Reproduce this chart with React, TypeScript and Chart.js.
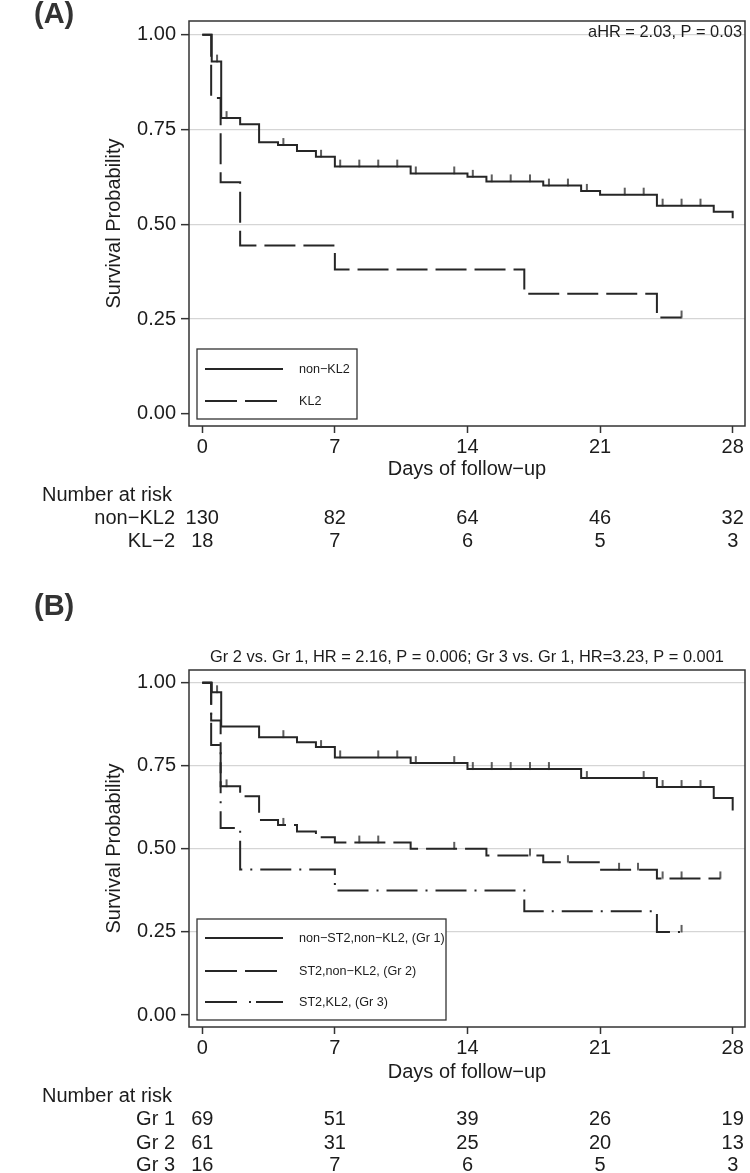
import React, { useEffect, useRef } from "react";
import { Chart, registerables } from "chart.js";
Chart.register(...registerables);

const FONT = '"Liberation Sans", Arial, Helvetica, sans-serif';
const INK = "#1c1c1c";
const LINE = "#262626";
const GRID = "#d5d5d5";

// Shared axes
const DAY_TICKS = [0, 7, 14, 21, 28];
const SURV_TICKS = [0, 0.25, 0.5, 0.75, 1];
const X_TITLE = "Days of follow\u2212up";
const Y_TITLE = "Survival Probability";

// ---------- Panel A ----------
const A_NON_T = [0, 0.5, 1, 2, 3, 4, 5, 6, 7, 11, 14, 15, 18, 20, 21, 24, 27, 28];
const A_NON_S = [1, 0.929, 0.78, 0.764, 0.716, 0.709, 0.693, 0.678, 0.652, 0.634, 0.625, 0.613, 0.602, 0.588, 0.578, 0.549, 0.533, 0.516];
const A_NON_CENS = [0.78, 1.28, 4.28, 6.27, 7.28, 8.29, 9.29, 10.29, 11.27, 13.3, 14.28, 15.28, 16.28, 17.3, 18.3, 19.3, 20.3, 22.3, 23.3, 24.3, 25.3, 26.3];
const A_KL2_T = [0, 0.47, 0.97, 2, 7, 17, 24, 25.3];
const A_KL2_S = [1, 0.833, 0.611, 0.444, 0.381, 0.317, 0.254, 0.254];
const A_KL2_CENS = [25.3];
const A_LEGEND = ["non\u2212KL2", "KL2"];
const A_NOTE = "aHR = 2.03, P = 0.03";
const A_RISK_ROWS = ["non\u2212KL2", "KL\u22122"];
const A_RISK_NON = [130, 82, 64, 46, 32];
const A_RISK_KL2 = [18, 7, 6, 5, 3];

// ---------- Panel B ----------
const B_G1_T = [0, 0.5, 1, 3, 5, 6, 7, 11, 14, 20, 24, 27, 28];
const B_G1_S = [1, 0.971, 0.868, 0.836, 0.821, 0.806, 0.775, 0.758, 0.74, 0.713, 0.686, 0.653, 0.615];
const B_G1_CENS = [0.78, 4.28, 6.27, 7.28, 9.29, 10.29, 11.27, 13.3, 14.28, 15.28, 16.28, 17.3, 18.3, 20.3, 23.3, 24.3, 25.3, 26.3];
const B_G2_T = [0, 0.47, 0.97, 2, 3, 4, 5, 6, 7, 11, 15, 18, 21, 24, 27.35];
const B_G2_S = [1, 0.886, 0.688, 0.658, 0.587, 0.572, 0.552, 0.535, 0.519, 0.5, 0.48, 0.46, 0.437, 0.411, 0.411];
const B_G2_CENS = [1.28, 4.28, 8.29, 9.29, 13.3, 17.3, 19.3, 22.0, 23.0, 24.3, 25.3, 27.35];
const B_G3_T = [0, 0.47, 0.97, 2, 7, 17, 24, 25.3];
const B_G3_S = [1, 0.8125, 0.5625, 0.4375, 0.375, 0.3125, 0.25, 0.25];
const B_G3_CENS = [25.3];
const B_LEGEND = ["non\u2212ST2,non\u2212KL2, (Gr 1)", "ST2,non\u2212KL2, (Gr 2)", "ST2,KL2, (Gr 3)"];
const B_NOTE = "Gr 2 vs. Gr 1, HR = 2.16, P = 0.006; Gr 3 vs. Gr 1, HR=3.23, P = 0.001";
const B_RISK_ROWS = ["Gr 1", "Gr 2", "Gr 3"];
const B_RISK_G1 = [69, 51, 39, 26, 19];
const B_RISK_G2 = [61, 31, 25, 20, 13];
const B_RISK_G3 = [16, 7, 6, 5, 3];

const SOLID: number[] = [];
const DASH = [31, 8];
const DASHDOT = [31, 8, 2, 8];
const LEG_DASH = [32, 8];
const LEG_DASHDOT = [32, 12, 2, 5];

function survAt(ts: number[], ss: number[], t: number) {
  let s = ss[0];
  for (let i = 0; i < ts.length; i++) if (ts[i] <= t) s = ss[i];
  return s;
}

let tickImg: HTMLCanvasElement | null = null;
function censorMark() {
  if (tickImg) return tickImg;
  const c = document.createElement("canvas");
  c.width = 4;
  c.height = 16;
  const g = c.getContext("2d")!;
  g.fillStyle = "#2a2a2a";
  g.fillRect(1.25, 1, 1.5, 7.5);
  tickImg = c;
  return c;
}

function curve(t: number[], s: number[], dash: number[]) {
  return {
    data: t.map((x, i) => ({ x, y: s[i] })),
    showLine: true,
    stepped: "before",
    borderColor: LINE,
    borderWidth: 2,
    borderDash: dash,
    pointRadius: 0,
    fill: false,
  };
}
function censors(t: number[], s: number[], c: number[]) {
  return {
    data: c.map((x) => ({ x, y: survAt(t, s, x) })),
    showLine: false,
    pointStyle: censorMark(),
    pointRadius: 4,
    borderColor: LINE,
    backgroundColor: LINE,
  };
}

type PanelSpec = {
  width: number;
  height: number;
  areaTop: number;
  areaBottom: number;
  yMin: number;
  yMax: number;
  datasets: any[];
  panelLabel: string;
  panelLabelY: number;
  note: string;
  noteMode: "inside" | "above";
  noteY: number;
  legend: { labels: string[]; dashes: number[][]; box: [number, number, number, number]; rowsY: number[] };
  xTitleY: number;
  riskTitleY: number;
  riskRows: string[];
  riskVals: number[][];
  riskRowsY: number[];
};

function makeConfig(p: PanelSpec) {
  const overlay = {
    id: "overlay",
    afterDraw(chart: any) {
      const { ctx, chartArea: a, scales } = chart;
      ctx.save();
      // frame
      ctx.strokeStyle = "#333";
      ctx.lineWidth = 1.5;
      ctx.setLineDash([]);
      ctx.strokeRect(a.left, a.top, a.right - a.left, a.bottom - a.top);

      // legend
      const [lx, ly, lw, lh] = p.legend.box;
      ctx.fillStyle = "#fff";
      ctx.fillRect(lx, ly, lw, lh);
      ctx.strokeStyle = "#333";
      ctx.lineWidth = 1.3;
      ctx.strokeRect(lx, ly, lw, lh);
      p.legend.labels.forEach((lab, i) => {
        const y = p.legend.rowsY[i];
        ctx.strokeStyle = LINE;
        ctx.lineWidth = 2;
        ctx.setLineDash(p.legend.dashes[i]);
        ctx.beginPath();
        ctx.moveTo(lx + 8, y);
        ctx.lineTo(lx + 86, y);
        ctx.stroke();
        ctx.setLineDash([]);
        ctx.fillStyle = INK;
        ctx.font = `12.6px ${FONT}`;
        ctx.textAlign = "left";
        ctx.textBaseline = "middle";
        ctx.fillText(lab, lx + 102, y + 1);
      });

      ctx.fillStyle = INK;
      ctx.textBaseline = "middle";
      // panel label
      ctx.font = `bold 29px ${FONT}`;
      ctx.fillStyle = "#333";
      ctx.textAlign = "left";
      ctx.fillText(p.panelLabel, 34, p.panelLabelY);
      ctx.fillStyle = INK;

      // note
      ctx.font = `16.4px ${FONT}`;
      if (p.noteMode === "inside") {
        ctx.textAlign = "right";
        ctx.fillText(p.note, a.right - 3, p.noteY);
      } else {
        ctx.textAlign = "center";
        ctx.fillText(p.note, (a.left + a.right) / 2, p.noteY);
      }

      // axis titles
      ctx.font = `20px ${FONT}`;
      ctx.textAlign = "center";
      ctx.fillText(X_TITLE, (a.left + a.right) / 2, p.xTitleY);
      ctx.save();
      ctx.translate(114, (a.top + a.bottom) / 2);
      ctx.rotate(-Math.PI / 2);
      ctx.fillText(Y_TITLE, 0, 0);
      ctx.restore();

      // number at risk
      ctx.textAlign = "left";
      ctx.fillText("Number at risk", 42, p.riskTitleY);
      p.riskRows.forEach((row, r) => {
        const y = p.riskRowsY[r];
        ctx.textAlign = "right";
        ctx.fillText(row, 175, y);
        ctx.textAlign = "center";
        p.riskVals[r].forEach((v, k) => {
          ctx.fillText(String(v), scales.x.getPixelForValue(DAY_TICKS[k]), y);
        });
      });
      ctx.restore();
    },
  };

  return {
    type: "scatter",
    data: { datasets: p.datasets },
    options: {
      animation: false,
      responsive: false,
      events: [],
      layout: { padding: { left: 0, right: 2, top: p.areaTop, bottom: 0 } },
      plugins: { legend: { display: false }, tooltip: { enabled: false }, title: { display: false } },
      scales: {
        x: {
          type: "linear",
          min: -0.7,
          max: 28.65,
          afterBuildTicks: (s: any) => {
            s.ticks = DAY_TICKS.map((v) => ({ value: v }));
          },
          afterFit: (s: any) => {
            s.height = p.height - p.areaBottom;
          },
          grid: { drawOnChartArea: false, drawTicks: true, tickLength: 7, tickColor: "#333", tickWidth: 1.5 },
          border: { display: false },
          ticks: { font: { family: FONT, size: 20 }, color: INK, padding: 2, maxRotation: 0, autoSkip: false },
        },
        y: {
          type: "linear",
          min: p.yMin,
          max: p.yMax,
          afterBuildTicks: (s: any) => {
            s.ticks = SURV_TICKS.map((v) => ({ value: v }));
          },
          afterFit: (s: any) => {
            s.width = 189;
          },
          grid: {
            color: (c: any) => (c.tick && c.tick.value === 0 ? "rgba(0,0,0,0)" : GRID),
            lineWidth: 1.3,
            drawTicks: true,
            tickLength: 8,
            tickColor: "#333",
            tickWidth: 1.5,
          },
          border: { display: false },
          ticks: {
            font: { family: FONT, size: 20 },
            color: INK,
            padding: 5,
            autoSkip: false,
            callback: (v: any) => Number(v).toFixed(2),
          },
        },
      },
    },
    plugins: [overlay],
  };
}

const PANEL_A: PanelSpec = {
  width: 750,
  height: 580,
  areaTop: 21,
  areaBottom: 426,
  yMin: -0.032,
  yMax: 1.036,
  datasets: [
    curve(A_NON_T, A_NON_S, SOLID),
    curve(A_KL2_T, A_KL2_S, DASH),
    censors(A_NON_T, A_NON_S, A_NON_CENS),
    censors(A_KL2_T, A_KL2_S, A_KL2_CENS),
  ],
  panelLabel: "(A)",
  panelLabelY: 15,
  note: A_NOTE,
  noteMode: "inside",
  noteY: 32,
  legend: { labels: A_LEGEND, dashes: [SOLID, LEG_DASH], box: [197, 349, 160, 70], rowsY: [369, 401] },
  xTitleY: 469,
  riskTitleY: 495,
  riskRows: A_RISK_ROWS,
  riskVals: [A_RISK_NON, A_RISK_KL2],
  riskRowsY: [518, 541],
};

const PANEL_B: PanelSpec = {
  width: 750,
  height: 593,
  areaTop: 90,
  areaBottom: 447,
  yMin: -0.036,
  yMax: 1.038,
  datasets: [
    curve(B_G1_T, B_G1_S, SOLID),
    curve(B_G2_T, B_G2_S, DASH),
    curve(B_G3_T, B_G3_S, DASHDOT),
    censors(B_G1_T, B_G1_S, B_G1_CENS),
    censors(B_G2_T, B_G2_S, B_G2_CENS),
    censors(B_G3_T, B_G3_S, B_G3_CENS),
  ],
  panelLabel: "(B)",
  panelLabelY: 27,
  note: B_NOTE,
  noteMode: "above",
  noteY: 77,
  legend: { labels: B_LEGEND, dashes: [SOLID, LEG_DASH, LEG_DASHDOT], box: [197, 339, 249, 101], rowsY: [358, 391, 422] },
  xTitleY: 492,
  riskTitleY: 516,
  riskRows: B_RISK_ROWS,
  riskVals: [B_RISK_G1, B_RISK_G2, B_RISK_G3],
  riskRowsY: [539, 563, 585],
};

function Panel({ spec, top }: { spec: PanelSpec; top: number }) {
  const ref = useRef<HTMLCanvasElement>(null);
  useEffect(() => {
    if (!ref.current) return;
    const chart = new Chart(ref.current, makeConfig(spec) as any);
    return () => chart.destroy();
  }, [spec]);
  return (
    <canvas
      ref={ref}
      width={spec.width}
      height={spec.height}
      style={{ position: "absolute", left: 0, top, width: spec.width, height: spec.height }}
    />
  );
}

export default function App() {
  return (
    <div style={{ position: "absolute", left: 0, top: 0, width: 750, height: 1173, background: "#fff", overflow: "hidden" }}>
      <Panel spec={PANEL_A} top={0} />
      <Panel spec={PANEL_B} top={580} />
    </div>
  );
}
